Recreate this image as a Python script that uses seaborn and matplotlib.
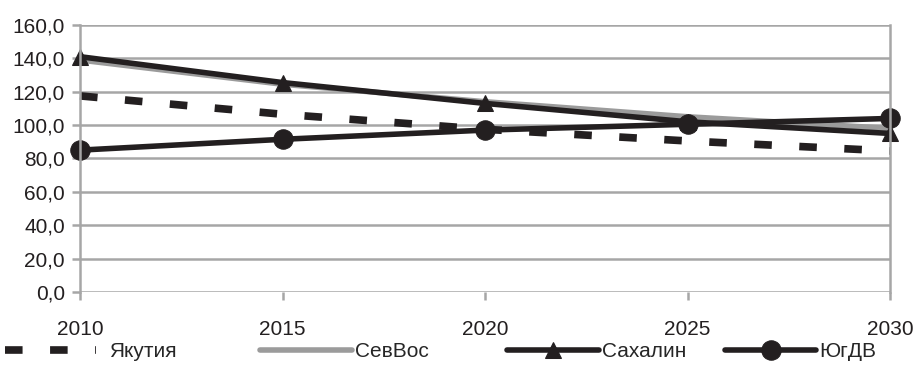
import matplotlib
matplotlib.use("Agg")
import matplotlib.pyplot as plt
from matplotlib import font_manager
import seaborn as sns
import pandas as pd

# data
years = [2010, 2015, 2020, 2025, 2030]
yakutiya = [117.5, 106.5, 97.5, 90.5, 84.5]
sevvos = [139.0, 124.5, 114.0, 105.0, 98.0]
sakhalin = [141.0, 125.5, 113.0, 102.0, 95.0]
yugdv = [85.0, 91.5, 97.0, 100.5, 104.0]
series_names = ["Якутия", "СевВос", "Сахалин", "ЮгДВ"]
y_ticks = [0, 20, 40, 60, 80, 100, 120, 140, 160]

names = {f.name for f in font_manager.fontManager.ttflist}
narrow = "Liberation Sans Narrow" if "Liberation Sans Narrow" in names else "Liberation Sans"

sns.set_style("white")
plt.rcParams["font.family"] = ["Liberation Sans", "DejaVu Sans"]

df = pd.DataFrame({"year": years * 4,
                   "value": yakutiya + sevvos + sakhalin + yugdv,
                   "region": [n for n in series_names for _ in years]})

fig = plt.figure(figsize=(9.22, 3.74), dpi=100)
ax = fig.add_axes([0.0868, 0.2193, 0.8785, 0.7139])

black = "#231f20"
grid = "#a6a6a6"

sns.lineplot(data=df[df.region == "Якутия"], x="year", y="value", ax=ax,
             color=black, linewidth=5.5, label="Якутия")
ax.lines[-1].set_dashes([2.3, 3.6])
ax.lines[-1].set_dash_capstyle("butt")
sns.lineplot(data=df[df.region == "СевВос"], x="year", y="value", ax=ax,
             color="#9b9b9b", linewidth=4, label="СевВос")
sns.lineplot(data=df[df.region == "Сахалин"], x="year", y="value", ax=ax,
             color=black, linewidth=4, marker="^", markersize=12,
             markeredgecolor=black, label="Сахалин")
sns.lineplot(data=df[df.region == "ЮгДВ"], x="year", y="value", ax=ax,
             color=black, linewidth=4, marker="o", markersize=14,
             markeredgecolor=black, label="ЮгДВ")
for ln in ax.lines:
    ln.set_clip_on(False)

ax.set_xlim(2010, 2030)
ax.set_ylim(0, 160)
ax.set_yticks(y_ticks)
ax.set_yticklabels([f"{v:.1f}".replace(".", ",") for v in y_ticks])
ax.set_xticks(years)
ax.set_xticklabels([str(y) for y in years], fontfamily=narrow, fontsize=15)
ax.set_xlabel("")
ax.set_ylabel("")
ax.yaxis.grid(True, color=grid, linewidth=1.8)
ax.set_axisbelow(True)
for s in ["top", "bottom"]:
    ax.spines[s].set_visible(False)
for s in ["left", "right"]:
    ax.spines[s].set_color(grid)
    ax.spines[s].set_linewidth(1.8)
ax.tick_params(axis="y", labelsize=15, length=6, width=1.8, color=grid, left=True, pad=5, labelcolor=black)
ax.tick_params(axis="x", length=6, width=1.8, color=grid, bottom=True, pad=14, labelcolor=black)

# one legend box per entry, spaced like the reference
handles, labels = ax.get_legend_handles_labels()
ax.get_legend().remove()
slot_x = [0.005, 0.282, 0.550, 0.786]
for h, lab, x0 in zip(handles, labels, slot_x):
    fig.legend([h], [lab], loc="center left", bbox_to_anchor=(x0, 0.059),
               frameon=False, handlelength=4.4, handletextpad=0.15 if lab != "Якутия" else 0.6,
               borderaxespad=0, borderpad=0, prop={"family": narrow, "size": 15})

fig.savefig("out.png", dpi=100)
